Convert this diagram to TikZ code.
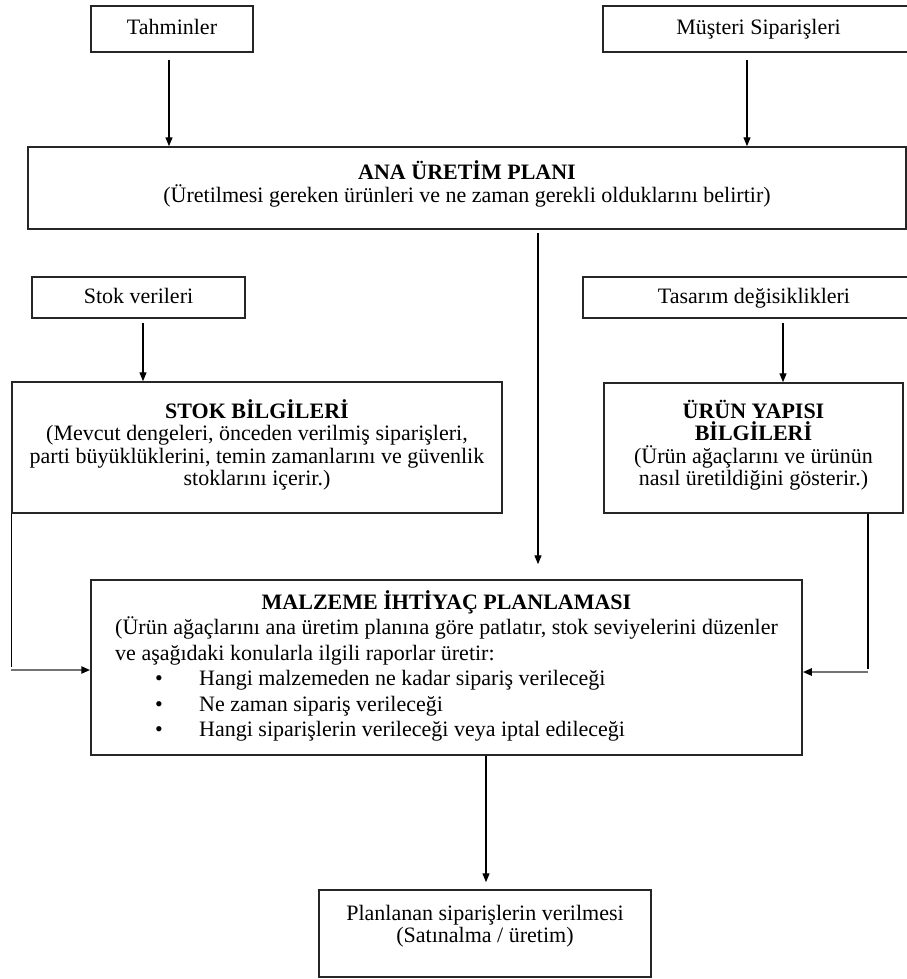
\documentclass[tikz,border=0pt]{standalone}
\usepackage{fontspec}
\setmainfont{Liberation Serif}
\usetikzlibrary{arrows.meta,calc}
% text face of the boxes, with a fixed line pitch
\newcommand{\boxfont}{\fontsize{22}{22.5}\selectfont\lineskiplimit-20pt\relax}
\begin{document}
\begin{tikzpicture}[x=1pt,y=-1pt,
  box/.style={draw=black!85, line width=1.5pt, inner sep=0pt, align=center,
    font=\boxfont},
  oneline/.style={box, text height=17pt, text depth=5pt},
  arr/.style={draw=black, line width=1.3pt, -{Triangle[length=9pt,width=7pt]}},
  feed/.style={draw=black!55, line width=2.6pt,
    -{Triangle[length=9pt,width=7pt,color=black]}},
  link/.style={draw=black, line width=1.3pt}]
\useasboundingbox (0,0) rectangle (906,979);

% inputs
\node[oneline, minimum width=162pt, minimum height=46pt] (tah) at (172,29) {Tahminler};
\node[oneline, minimum width=311pt, minimum height=46pt] (mus) at (758.5,29) {Müşteri Siparişleri};

% master production schedule
\node[box, minimum width=878pt, minimum height=82pt, text depth=13pt] (ana) at (467,188)
  {\textbf{ANA ÜRETİM PLANI}\\(Üretilmesi gereken ürünleri ve ne zaman gerekli olduklarını belirtir)};

% data sources
\node[oneline, minimum width=213pt, minimum height=41pt] (stokv) at (138.5,297.5) {Stok verileri};
\node[oneline, minimum width=342pt, minimum height=41pt] (tasv) at (754,297.5) {Tasarım değisiklikleri};

\node[box, minimum width=490pt, minimum height=131pt, text depth=10pt] (stok) at (257,447.5)
  {\textbf{STOK BİLGİLERİ}\\(Mevcut dengeleri, önceden verilmiş siparişleri,\\
   parti büyüklüklerini, temin zamanlarını ve güvenlik\\stoklarını içerir.)};
\node[box, minimum width=299pt, minimum height=130pt, text depth=10pt] (urun) at (753.5,448)
  {\textbf{ÜRÜN YAPISI}\\\textbf{BİLGİLERİ}\\(Ürün ağaçlarını ve ürünün\\nasıl üretildiğini gösterir.)};

% MRP
\node[box, minimum width=711pt, minimum height=175pt] (mrp) at (446.5,667.5)
  {\renewcommand{\arraystretch}{1.135}%
   \begin{tabular}{@{}l@{}}
   \multicolumn{1}{@{}c@{}}{\textbf{MALZEME İHTİYAÇ PLANLAMASI}}\\
   (Ürün ağaçlarını ana üretim planına göre patlatır, stok seviyelerini düzenler\\
   ve aşağıdaki konularla ilgili raporlar üretir:\\
   \hspace*{40pt}\makebox[44pt][l]{\textbullet}Hangi malzemeden ne kadar sipariş verileceği\\
   \hspace*{40pt}\makebox[44pt][l]{\textbullet}Ne zaman sipariş verileceği\\
   \hspace*{40pt}\makebox[44pt][l]{\textbullet}Hangi siparişlerin verileceği veya iptal edileceği
   \end{tabular}};

% output
\node[box, minimum width=332pt, minimum height=87pt, text depth=19pt] (plan) at (485,933.5)
  {Planlanan siparişlerin verilmesi\\(Satınalma / üretim)};

% connectors
\draw[arr] ([xshift=-3pt,yshift=-7pt]tah.south) -- ([xshift=-3pt]tah.south |- ana.north);
\draw[arr] ([xshift=-11.5pt,yshift=-7pt]mus.south) -- ([xshift=-11.5pt]mus.south |- ana.north);
\draw[arr, shorten >=15pt] ([xshift=71pt,yshift=-3pt]ana.south) -- ([xshift=71pt]ana.south |- mrp.north);
\draw[arr] ([xshift=4.5pt,yshift=-4pt]stokv.south) -- ([xshift=4.5pt]stokv.south |- stok.north);
\draw[arr] ([xshift=29pt,yshift=-4pt]tasv.south) -- ([xshift=29pt]tasv.south |- urun.north);
\draw[arr, shorten >=7pt] ([xshift=39.5pt]mrp.south) -- ([xshift=39.5pt]mrp.south |- plan.north);

% side feeds into MRP
\path ([yshift=-2.5pt]mrp.west) coordinate (lin)
      ([yshift=-4.5pt]mrp.east) coordinate (rin)
      ([xshift=114.5pt]urun.south) coordinate (rout);
\coordinate (lj) at (stok.south west |- lin);
\coordinate (rj) at (rout |- rin);
\draw[link] (stok.south west) -- ([yshift=3pt]lj);
\draw[feed] (lj) -- (lin);
\draw[link] (rout) -- ([yshift=3pt]rj);
\draw[feed] (rj) -- (rin);
\end{tikzpicture}
\end{document}
